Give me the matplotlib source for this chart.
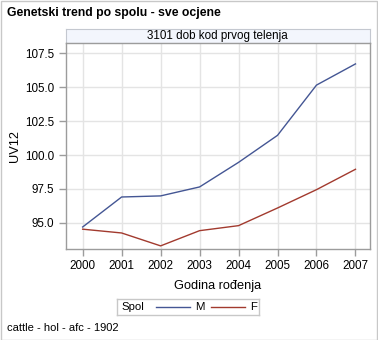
import matplotlib
matplotlib.use("Agg")
import matplotlib.pyplot as plt
from matplotlib.lines import Line2D
from matplotlib.patches import Rectangle

plt.rcParams['font.family'] = ['Liberation Sans', 'DejaVu Sans']

years = [2000, 2001, 2002, 2003, 2004, 2005, 2006, 2007]
uv_m = [94.70, 96.91, 96.99, 97.65, 99.46, 101.45, 105.15, 106.71]
uv_f = [94.54, 94.26, 93.31, 94.43, 94.80, 96.10, 97.45, 98.95]
y_ticks = [95.0, 97.5, 100.0, 102.5, 105.0, 107.5]

title = 'Genetski trend po spolu - sve ocjene'
panel = '3101 dob kod prvog telenja'
x_label = 'Godina rođenja'
y_label = 'UV12'
group = 'Spol'
series = ['M', 'F']
footnote = 'cattle - hol - afc - 1902'

blue = '#445694'
red = '#A23A2E'
frame = '#9C9C9C'
grid = '#E4E4E4'

W, H = 378, 340
fig = plt.figure(figsize=(W / 100, H / 100), dpi=100)


def box(x0, y0, x1, y1):
    # pixel box (top-left origin) -> figure fraction rect
    return [x0 / W, 1 - y1 / H, (x1 - x0) / W, (y1 - y0) / H]


# outer border
fig.patches.append(Rectangle((0.5 / W, 0.5 / H), 1 - 1.5 / W, 1 - 1.5 / H,
                             transform=fig.transFigure, fill=False,
                             edgecolor='#C8C8C8', linewidth=1))

fig.text(7 / W, 1 - 13 / H, title, fontsize=8.8, fontweight='bold',
         ha='left', va='center')

# panel header strip
strip = fig.add_axes(box(65.5, 29, 369.5, 43))
strip.set_facecolor('#F3F6FD')
strip.set_xticks([])
strip.set_yticks([])
for s in strip.spines.values():
    s.set_color('#C4C8D0')
    s.set_linewidth(0.8)
strip.text(0.5, 0.5, panel, ha='center', va='center', fontsize=8.4,
           transform=strip.transAxes)

ax = fig.add_axes(box(65.5, 43, 369.5, 249))
ax.plot(years, uv_m, color=blue, linewidth=1)
ax.plot(years, uv_f, color=red, linewidth=1)
ax.set_xlim(2000 - 0.44, 2007 + 0.36)
ax.set_ylim(93.08, 108.25)
ax.set_xticks(years)
ax.set_yticks(y_ticks)
ax.set_yticklabels([f'{v:.1f}' for v in y_ticks])
ax.grid(True, color=grid, linewidth=1)
ax.set_axisbelow(True)
for s in ax.spines.values():
    s.set_color(frame)
    s.set_linewidth(1)
ax.tick_params(direction='out', length=5, width=1, color=frame,
               labelsize=8.4, pad=3)
ax.set_xlabel(x_label, fontsize=9.2, labelpad=6)
ax.set_ylabel(y_label, fontsize=9.2, labelpad=3)

# legend box
leg = fig.add_axes(box(116.5, 299, 259, 315))
leg.set_xlim(116.5, 259)
leg.set_ylim(0, 1)
leg.set_xticks([])
leg.set_yticks([])
leg.set_facecolor('none')
for s in leg.spines.values():
    s.set_color('#C8C8C8')
    s.set_linewidth(1)
leg.text(121, 0.5, group, ha='left', va='center', fontsize=8.2)
for (x0, x1, xt), name, c in zip([(156, 190, 195.5), (211, 245, 250)],
                                 series, [blue, red]):
    leg.add_line(Line2D([x0, x1], [0.5, 0.5], color=c, linewidth=1))
    leg.text(xt, 0.5, name, ha='left', va='center', fontsize=8.2)

fig.text(7 / W, 1 - 328 / H, footnote, fontsize=8.0, ha='left', va='center')

fig.savefig('out.png', dpi=100)
